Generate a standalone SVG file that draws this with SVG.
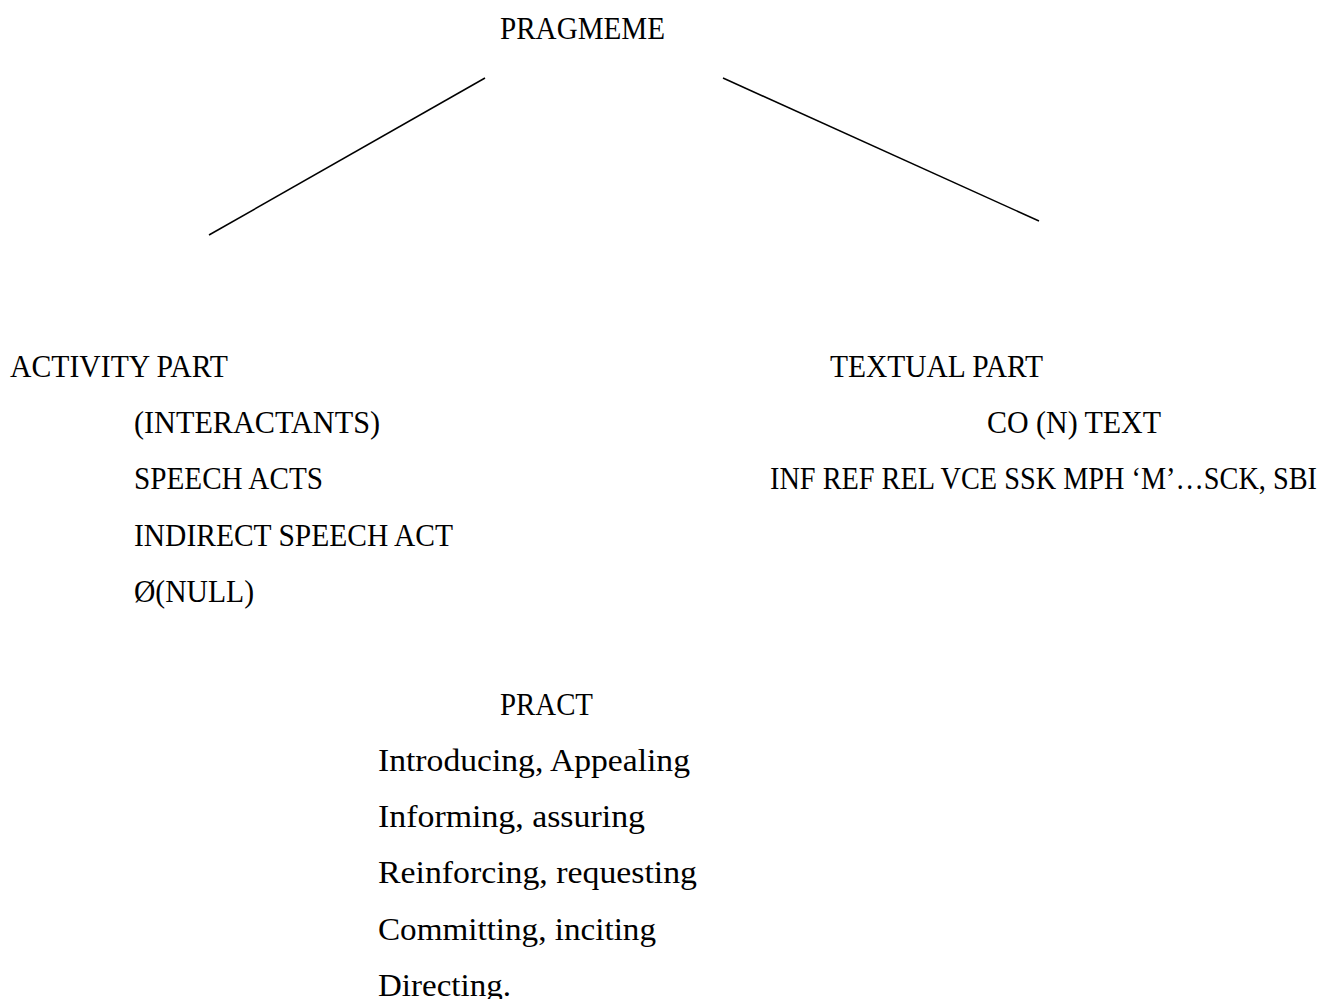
<svg xmlns="http://www.w3.org/2000/svg" width="1325" height="999" viewBox="0 0 1325 999">
<style>
text { font-family: "Liberation Serif", "DejaVu Serif", serif; font-size: 31px; fill: #000; }
.edge { stroke: #000; stroke-width: 1.5; fill: none; }
</style>
<rect width="1325" height="999" fill="#fff"/>
<g id="connectors">
<line class="edge" x1="485" y1="78" x2="209" y2="235"/>
<line class="edge" x1="723" y1="78" x2="1039" y2="221"/>
</g>
<g id="pragmeme">
<text x="500" y="39" textLength="165" lengthAdjust="spacingAndGlyphs">PRAGMEME</text>
</g>
<g id="activity-part">
<text x="10" y="377" textLength="218" lengthAdjust="spacingAndGlyphs">ACTIVITY PART</text>
<text x="134" y="433" textLength="246" lengthAdjust="spacingAndGlyphs">(INTERACTANTS)</text>
<text x="134" y="489" textLength="189" lengthAdjust="spacingAndGlyphs">SPEECH ACTS</text>
<text x="134" y="546" textLength="319" lengthAdjust="spacingAndGlyphs">INDIRECT SPEECH ACT</text>
<text x="134" y="602" textLength="120" lengthAdjust="spacingAndGlyphs">Ø(NULL)</text>
</g>
<g id="textual-part">
<text x="830" y="377" textLength="213" lengthAdjust="spacingAndGlyphs">TEXTUAL PART</text>
<text x="987" y="433" textLength="174" lengthAdjust="spacingAndGlyphs">CO (N) TEXT</text>
<text x="770" y="489" textLength="547" lengthAdjust="spacingAndGlyphs">INF REF REL VCE SSK MPH ‘M’…SCK, SBI</text>
</g>
<g id="pract">
<text x="500" y="715" textLength="93" lengthAdjust="spacingAndGlyphs">PRACT</text>
<text x="378" y="771" textLength="312" lengthAdjust="spacingAndGlyphs">Introducing, Appealing</text>
<text x="378" y="827" textLength="267" lengthAdjust="spacingAndGlyphs">Informing, assuring</text>
<text x="378" y="883" textLength="319" lengthAdjust="spacingAndGlyphs">Reinforcing, requesting</text>
<text x="378" y="940" textLength="278" lengthAdjust="spacingAndGlyphs">Committing, inciting</text>
<text x="378" y="996" textLength="133" lengthAdjust="spacingAndGlyphs">Directing.</text>
</g>
</svg>
